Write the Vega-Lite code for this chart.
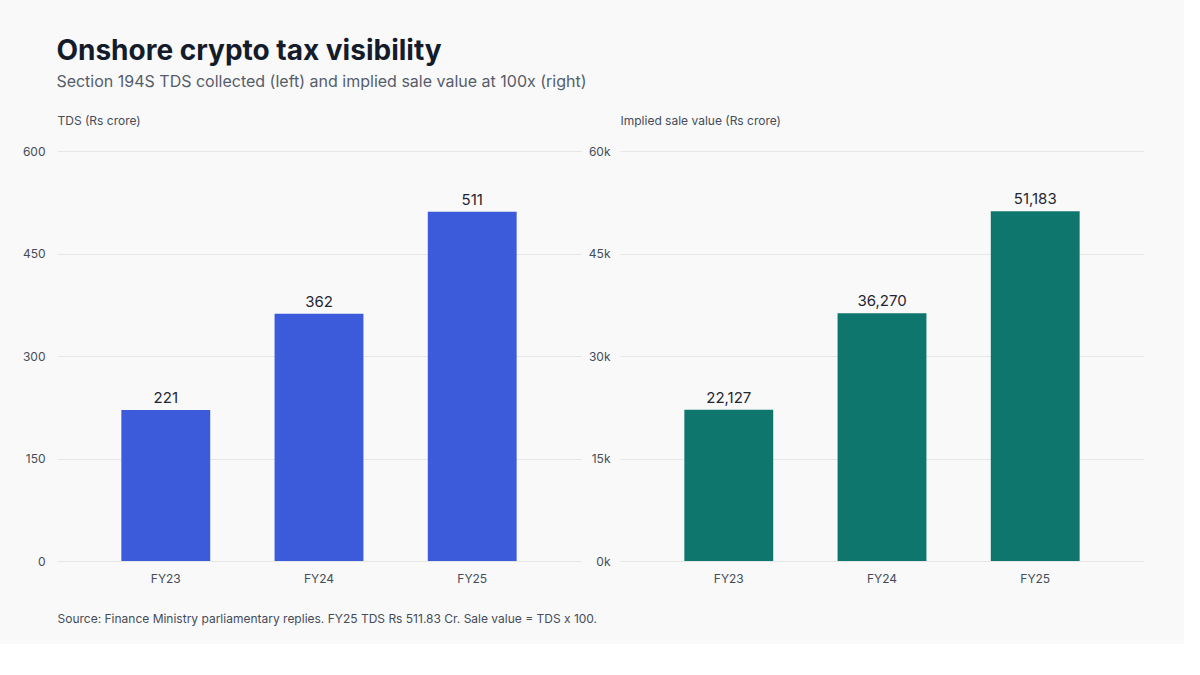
{
"$schema":"https://vega.github.io/schema/vega-lite/v6.json",
"background":"#f9f9f9",
"padding":{"left":22,"top":38,"right":40,"bottom":20},
"config":{"font":"Inter","view":{"stroke":null},
"axis":{"labelFont":"Inter","titleFont":"Inter","labelColor":"#444c5a","titleColor":"#444c5a","labelFontSize":12,"titleFontSize":12,"titleFontWeight":"normal","domain":false,"ticks":false,"gridColor":"#e6e6e6"}},
"title":{"text":"Onshore crypto tax visibility","subtitle":"Section 194S TDS collected (left) and implied sale value at 100x (right)","anchor":"start","fontSize":28,"fontWeight":"bold","color":"#141c2b","subtitleFontSize":16,"subtitleColor":"#555d6b","subtitlePadding":8,"offset":24,"dx":34},
"data":{"values":[
{"fy":"FY23","tds":221,"sale":22127},
{"fy":"FY24","tds":362,"sale":36270},
{"fy":"FY25","tds":511,"sale":51183}]},
"spacing":-9,
"hconcat":[
{"width":524,"height":410,
"encoding":{"x":{"field":"fy","type":"nominal","scale":{"paddingInner":0.42,"paddingOuter":0.42},
"axis":{"labelAngle":0,"labelPadding":12,"title":"Source: Finance Ministry parliamentary replies. FY25 TDS Rs 511.83 Cr. Sale value = TDS x 100.","titleAnchor":"start","titleAlign":"left","titlePadding":29,"titleFontSize":12}},
"y":{"field":"tds","type":"quantitative","scale":{"domain":[0,600]},"axis":{"values":[0,150,300,450,600],"labelPadding":12,"title":"TDS (Rs crore)","titleAngle":0,"titleAlign":"left","titleX":0,"titleY":-24}}},
"layer":[{"mark":{"type":"bar","color":"#3b5bdb"}},
{"mark":{"type":"text","dy":-12,"fontSize":15,"color":"#1f2633"},"encoding":{"text":{"field":"tds","format":"d"}}}]},
{"width":524,"height":410,
"encoding":{"x":{"field":"fy","type":"nominal","scale":{"paddingInner":0.42,"paddingOuter":0.42},"axis":{"labelAngle":0,"labelPadding":12,"title":null}},
"y":{"field":"sale","type":"quantitative","scale":{"domain":[0,60000]},"axis":{"values":[0,15000,30000,45000,60000],"labelExpr":"datum.value/1000+'k'","labelPadding":10,"title":"Implied sale value (Rs crore)","titleAngle":0,"titleAlign":"left","titleX":0,"titleY":-24}}},
"layer":[{"mark":{"type":"bar","color":"#0f766e"}},
{"mark":{"type":"text","dy":-12,"fontSize":15,"color":"#1f2633"},"encoding":{"text":{"field":"sale","format":","}}}]}
]}
